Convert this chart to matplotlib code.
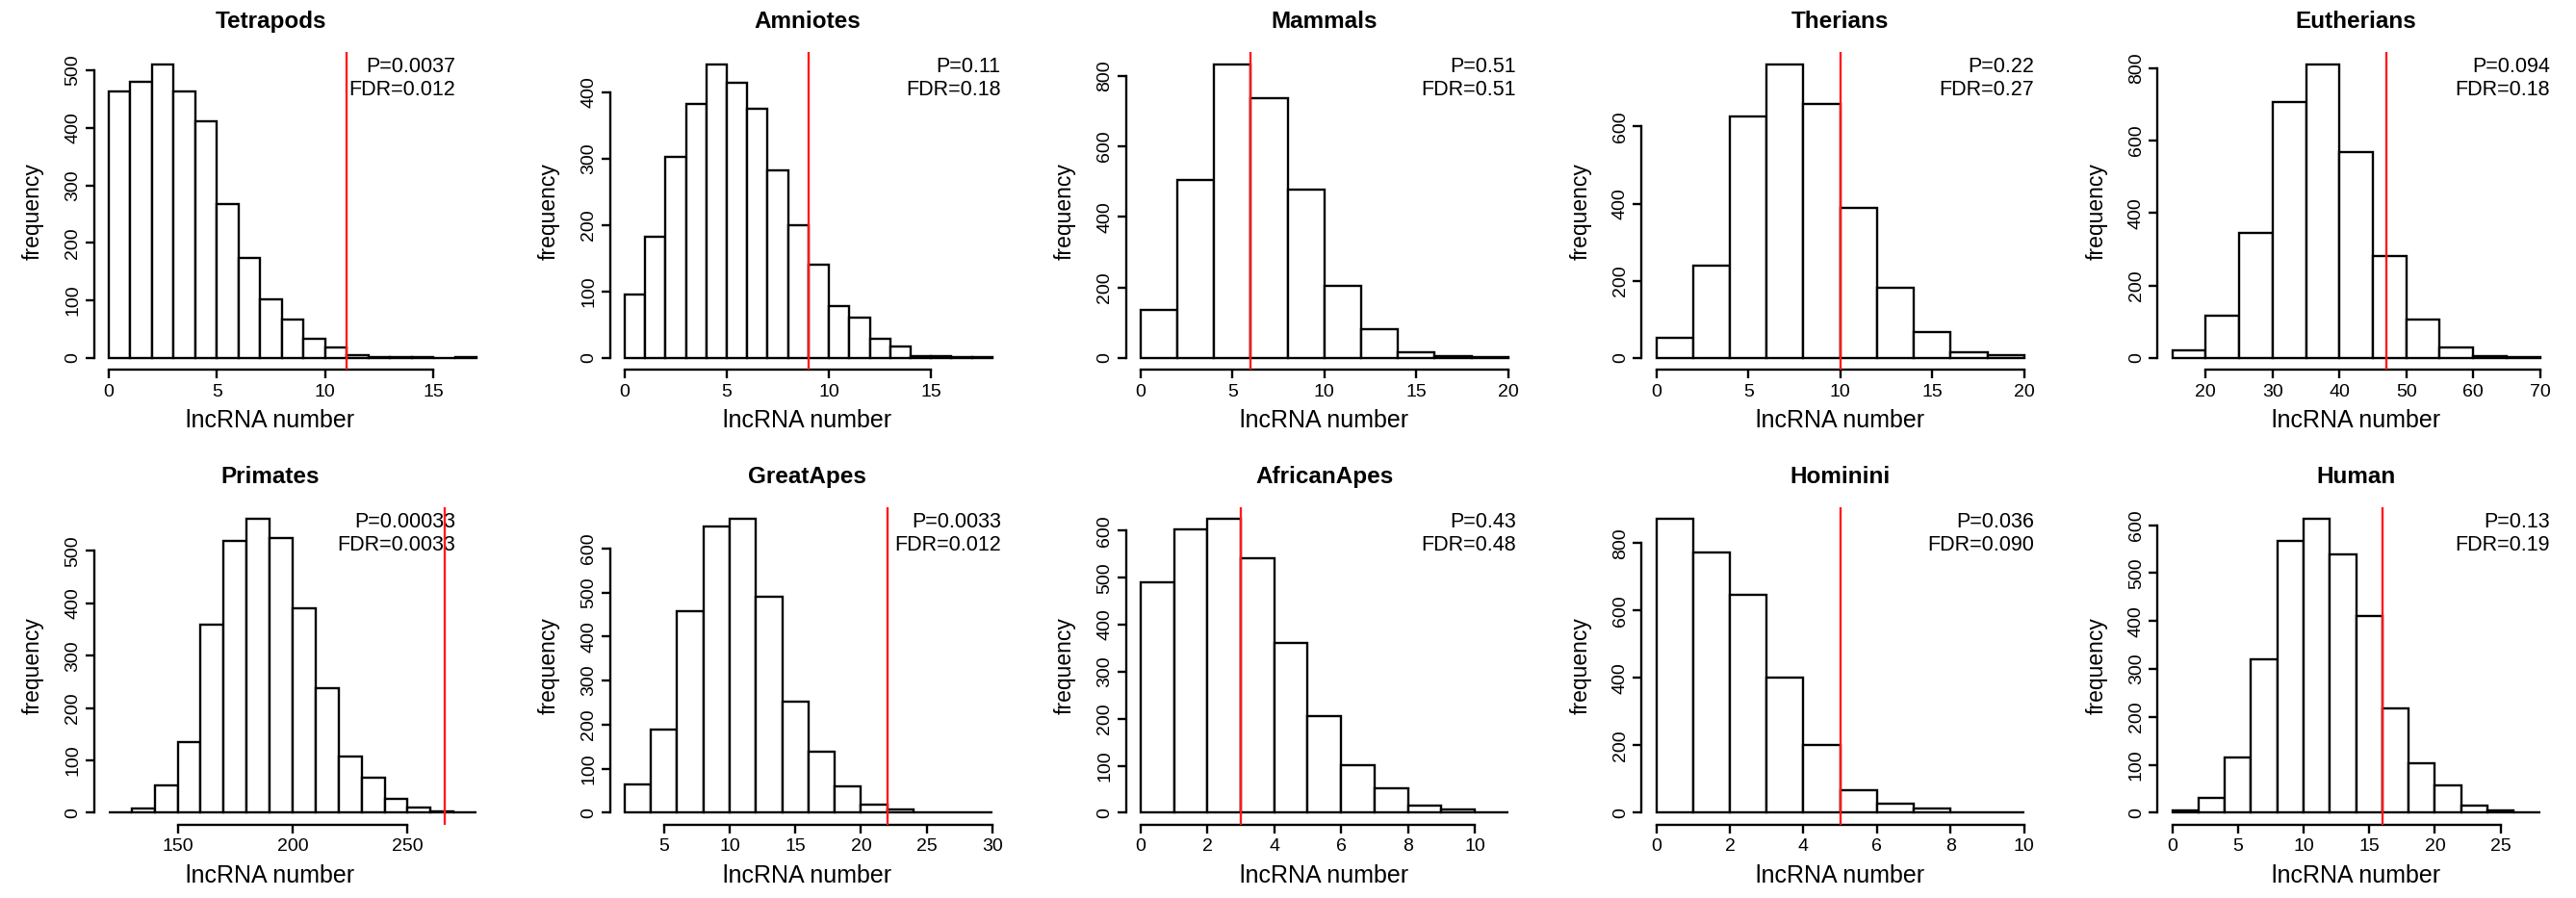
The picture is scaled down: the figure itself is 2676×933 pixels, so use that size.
import numpy as np
import matplotlib
matplotlib.use("Agg")
import matplotlib.pyplot as plt

# ---------------------------------------------------------------------------
# Null distributions of lncRNA numbers per clade (permutation counts per bin)
# ---------------------------------------------------------------------------
clades = ["Tetrapods", "Amniotes", "Mammals", "Therians", "Eutherians",
          "Primates", "GreatApes", "AfricanApes", "Hominini", "Human"]

tetrapods_counts = [463, 480, 511, 464, 411, 268, 173, 102, 66, 33, 18, 5, 2, 1, 1, 0, 1]
amniotes_counts = [95, 182, 302, 382, 442, 414, 374, 282, 199, 140, 78, 60, 28, 17, 3, 2, 1, 1]
mammals_counts = [135, 506, 834, 736, 478, 204, 82, 17, 5, 2]
therians_counts = [52, 238, 627, 762, 659, 390, 181, 67, 14, 8]
eutherians_counts = [20, 116, 345, 707, 811, 567, 282, 107, 29, 5, 2]
primates_counts = [1, 9, 52, 135, 359, 520, 561, 525, 390, 238, 107, 67, 26, 10, 3, 1]
greatapes_counts = [64, 190, 457, 651, 667, 490, 253, 138, 59, 18, 7, 2, 0, 1]
africanapes_counts = [491, 602, 625, 541, 361, 206, 101, 52, 16, 7, 1]
hominini_counts = [872, 772, 646, 402, 200, 67, 27, 12, 0, 1]
human_counts = [4, 31, 115, 320, 568, 613, 540, 411, 217, 103, 58, 15, 5, 1]

all_counts = [tetrapods_counts, amniotes_counts, mammals_counts, therians_counts,
              eutherians_counts, primates_counts, greatapes_counts,
              africanapes_counts, hominini_counts, human_counts]

# histogram breaks: first break and bin width
bin_starts = [0, 0, 0, 0, 15, 120, 2, 0, 0, 0]
bin_widths = [1, 1, 2, 2, 5, 10, 2, 1, 1, 2]

# observed lncRNA number (red line)
observed = [11, 9, 6, 10, 47, 266, 22, 3, 5, 16]

p_labels = ["0.0037", "0.11", "0.51", "0.22", "0.094",
            "0.00033", "0.0033", "0.43", "0.036", "0.13"]
fdr_labels = ["0.012", "0.18", "0.51", "0.27", "0.18",
              "0.0033", "0.012", "0.48", "0.090", "0.19"]

x_ticks = [[0, 5, 10, 15], [0, 5, 10, 15], [0, 5, 10, 15, 20], [0, 5, 10, 15, 20],
           [20, 30, 40, 50, 60, 70], [150, 200, 250], [5, 10, 15, 20, 25, 30],
           [0, 2, 4, 6, 8, 10], [0, 2, 4, 6, 8, 10], [0, 5, 10, 15, 20, 25]]
y_ticks = [[0, 100, 200, 300, 400, 500], [0, 100, 200, 300, 400],
           [0, 200, 400, 600, 800], [0, 200, 400, 600], [0, 200, 400, 600, 800],
           [0, 100, 200, 300, 400, 500], [0, 100, 200, 300, 400, 500, 600],
           [0, 100, 200, 300, 400, 500, 600], [0, 200, 400, 600, 800],
           [0, 100, 200, 300, 400, 500, 600]]

# ---------------------------------------------------------------------------
# Layout (pixels)
# ---------------------------------------------------------------------------
W, H, DPI = 2676, 933, 100
PT = 72.0 / DPI                      # points per pixel
PLOT_W, PLOT_H = 412.6, 329.7
COL_X0, COL_STEP = 97.7, 535.9
ROW_Y0, ROW_STEP = 54.3, 472.7
col_center_shift = [-23.0, -1.5, 0.0, 0.0, 0.0]
col_annot_inset = [37.5, 6.5, 7.0, 5.2, 5.2]

LW = 1.7
plt.rcParams['font.family'] = ['Liberation Sans', 'DejaVu Sans']

fig = plt.figure(figsize=(W / DPI, H / DPI), dpi=DPI)
fig.patch.set_facecolor('white')


def fx(px):
    return px / W


def fy(py):
    return 1.0 - py / H


for i, clade in enumerate(clades):
    r, c = divmod(i, 5)
    left = COL_X0 + c * COL_STEP
    top = ROW_Y0 + r * ROW_STEP
    ax = fig.add_axes([fx(left), fy(top + PLOT_H), PLOT_W / W, PLOT_H / H])

    counts = np.asarray(all_counts[i])
    bw = bin_widths[i]
    edges = bin_starts[i] + bw * np.arange(len(counts) + 1)
    ax.bar(edges[:-1], counts, width=bw, align='edge', facecolor='white',
           edgecolor='black', linewidth=LW, zorder=2)

    lo, hi = edges[0], edges[-1]
    span = hi - lo
    ax.set_xlim(lo - 0.04 * span, hi + 0.04 * span)
    ymax = counts.max()
    ax.set_ylim(-0.04 * ymax, 1.04 * ymax)

    ax.axvline(observed[i], color='#ff1a1a', linewidth=LW, zorder=5)

    # R-style axes: lines only between first and last tick
    for side in ('top', 'right'):
        ax.spines[side].set_visible(False)
    for side in ('left', 'bottom'):
        ax.spines[side].set_linewidth(LW)
    xt, yt = x_ticks[i], y_ticks[i]
    ax.spines['bottom'].set_bounds(xt[0], xt[-1])
    ax.spines['left'].set_bounds(yt[0], yt[-1])
    ax.set_xticks(xt, labels=[str(v) for v in xt])
    ax.set_yticks(yt, labels=[str(v) for v in yt], rotation=90, va='center')
    ax.tick_params(direction='out', length=9.3 * PT, width=LW, labelsize=14,
                   color='black')
    ax.tick_params(axis='x', pad=3.8)
    ax.tick_params(axis='y', pad=3.0)
    ax.patch.set_alpha(0)

    xc = left + PLOT_W / 2 + col_center_shift[c]
    fig.text(fx(xc), fy(top - 25.0), clade, ha='center', va='baseline',
             fontsize=17.5, fontweight='bold')
    fig.text(fx(xc), fy(top + PLOT_H + 60.3), 'lncRNA number', ha='center',
             va='baseline', fontsize=18)
    fig.text(fx(left - 63.5), fy(top + PLOT_H / 2), 'frequency', rotation=90,
             ha='center', va='center', fontsize=16.5)

    xr = left + PLOT_W - col_annot_inset[c]
    ax.text(fx(xr), fy(top + 20.7), f"P={p_labels[i]}", transform=fig.transFigure,
            ha='right', va='baseline', fontsize=15.5, zorder=3)
    ax.text(fx(xr), fy(top + 44.7), f"FDR={fdr_labels[i]}", transform=fig.transFigure,
            ha='right', va='baseline', fontsize=15.5, zorder=3)

fig.savefig('out.png', dpi=DPI, facecolor='white')
